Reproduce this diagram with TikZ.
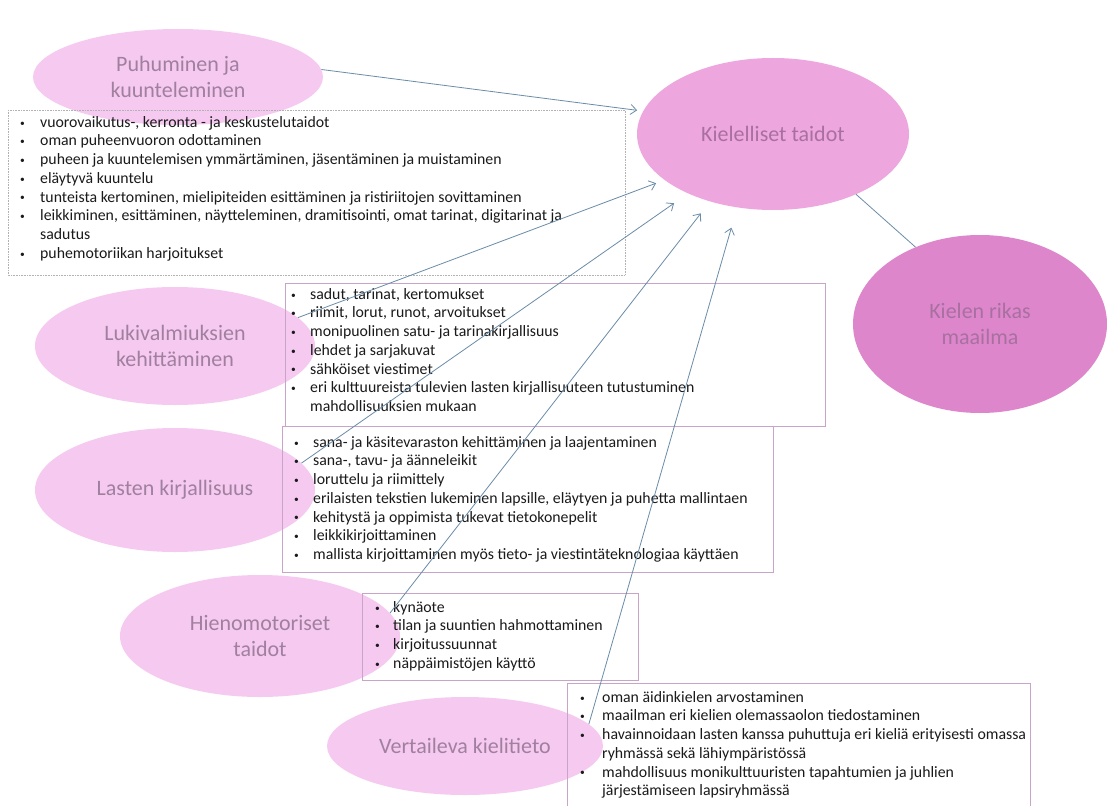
\documentclass[tikz,border=0pt]{standalone}
\usepackage{fontspec}
\setmainfont{Carlito}
\usetikzlibrary{shapes.geometric,arrows.meta}
\definecolor{lightpink}{HTML}{F6CAF0}
\definecolor{midpink}{HTML}{EEA6DE}
\definecolor{darkpink}{HTML}{DE86CB}
\definecolor{elltext}{HTML}{A07FA0}
\definecolor{elltextdark}{HTML}{A870A0}
\definecolor{arrowc}{HTML}{6A8CA8}
\definecolor{boxc}{HTML}{C8A4C8}
\definecolor{bodytext}{HTML}{1A1A1A}
\newlength{\bw}
\newcommand{\smallbul}{\raisebox{0.15ex}{\scalebox{0.6}{\textbullet}}}
\newcommand{\bl}[1]{\strut\makebox[\bw][l]{\smallbul}#1}
\newcommand{\cl}[1]{\strut\hspace*{\bw}#1}
\begin{document}
\begin{tikzpicture}[x=1pt,y=-1pt,
  ell/.style={ellipse, fill=lightpink, draw=none, inner sep=0pt, font=\fontsize{22}{26}\selectfont, text=elltext, align=center},
  boxline/.style={draw=boxc, line width=0.6pt},
  boxdot/.style={draw=gray!60, line width=0.6pt, densely dotted},
  listtext/.style={anchor=north west, inner sep=0pt, align=left, text=bodytext, font=\fontsize{15.8}{18.7}\selectfont},
  arr/.style={draw=arrowc, line width=0.8pt, -{Straight Barb[length=6pt,width=10pt]}},
  link/.style={draw=arrowc, line width=0.8pt}]
\useasboundingbox (0,0) rectangle (1107,805);
\fill[white] (0,0) rectangle (1107,805);

% ellipses
\node[ell, minimum width=290, minimum height=96] (puh) at (178,77) {Puhuminen ja\\kuunteleminen};
\node[ell, fill=midpink, text=elltextdark, minimum width=272, minimum height=152] (kt) at (773,134) {Kielelliset taidot};
\node[ell, fill=darkpink, text=elltextdark, minimum width=254, minimum height=178] (kr) at (980,324) {Kielen rikas\\maailma};
\node[ell, minimum width=280, minimum height=118] (luk) at (175,346) {Lukivalmiuksien\\kehittäminen};
\node[ell, minimum width=280, minimum height=124] (las) at (175,490) {Lasten kirjallisuus};
\node[ell, minimum width=280, minimum height=122] (hie) at (260,636) {Hienomotoriset\\taidot};
\node[ell, minimum width=276, minimum height=98] (ver) at (465,746) {Vertaileva kielitieto};

% boxes
\draw[boxdot] (8,110) rectangle (625,275);
\draw[boxline] (285,283) rectangle (825,426);
\draw[boxline] (282,426) rectangle (773,572);
\draw[boxline] (362,593) rectangle (638,680);
\draw[boxline] (567,806) -- (567,683) -- (1030,683) -- (1030,806);

% texts
\setlength{\bw}{20pt}
\node[listtext] (t1) at (20,114) {\bl{vuorovaikutus-, kerronta - ja keskustelutaidot}\\
\bl{oman puheenvuoron odottaminen}\\
\bl{puheen ja kuuntelemisen ymmärtäminen, jäsentäminen ja muistaminen}\\
\bl{eläytyvä kuuntelu}\\
\bl{tunteista kertominen, mielipiteiden esittäminen ja ristiriitojen sovittaminen}\\
\bl{leikkiminen, esittäminen, näytteleminen, dramitisointi, omat tarinat, digitarinat ja}\\
\cl{sadutus}\\
\bl{puhemotoriikan harjoitukset}};

\setlength{\bw}{19pt}
\node[listtext] (t2) at (291,286) {\bl{sadut, tarinat, kertomukset}\\
\bl{riimit, lorut, runot, arvoitukset}\\
\bl{monipuolinen satu- ja tarinakirjallisuus}\\
\bl{lehdet ja sarjakuvat}\\
\bl{sähköiset viestimet}\\
\bl{eri kulttuureista tulevien lasten kirjallisuuteen tutustuminen}\\
\cl{mahdollisuuksien mukaan}};

\node[listtext] (t3) at (294,434) {\bl{sana- ja käsitevaraston kehittäminen ja laajentaminen}\\
\bl{sana-, tavu- ja äänneleikit}\\
\bl{loruttelu ja riimittely}\\
\bl{erilaisten tekstien lukeminen lapsille, eläytyen ja puhetta mallintaen}\\
\bl{kehitystä ja oppimista tukevat tietokonepelit}\\
\bl{leikkikirjoittaminen}\\
\bl{mallista kirjoittaminen myös tieto- ja viestintäteknologiaa käyttäen}};

\setlength{\bw}{18pt}
\node[listtext] (t4) at (375,599) {\bl{kynäote}\\
\bl{tilan ja suuntien hahmottaminen}\\
\bl{kirjoitussuunnat}\\
\bl{näppäimistöjen käyttö}};

\setlength{\bw}{22pt}
\node[listtext] (t5) at (580,689) {\bl{oman äidinkielen arvostaminen}\\
\bl{maailman eri kielien olemassaolon tiedostaminen}\\
\bl{havainnoidaan lasten kanssa puhuttuja eri kieliä erityisesti omassa}\\
\cl{ryhmässä sekä lähiympäristössä}\\
\bl{mahdollisuus monikulttuuristen tapahtumien ja juhlien}\\
\cl{järjestämiseen lapsiryhmässä}};

% connectors
\draw[arr, shorten >=6pt] (puh.3) -- (kt.170);
\draw[arr, shorten >=9pt] (luk.13) -- (kt.203);
\draw[arr, shorten >=17pt] (las.12) -- (kt.215);
\draw[arr, shorten >=15pt] (hie.10) -- (kt.227);
\draw[arr, shorten >=21pt] (ver.10) -- (kt.244);
\draw[link] (kt.-36) -- (kr.130);
\end{tikzpicture}
\end{document}
